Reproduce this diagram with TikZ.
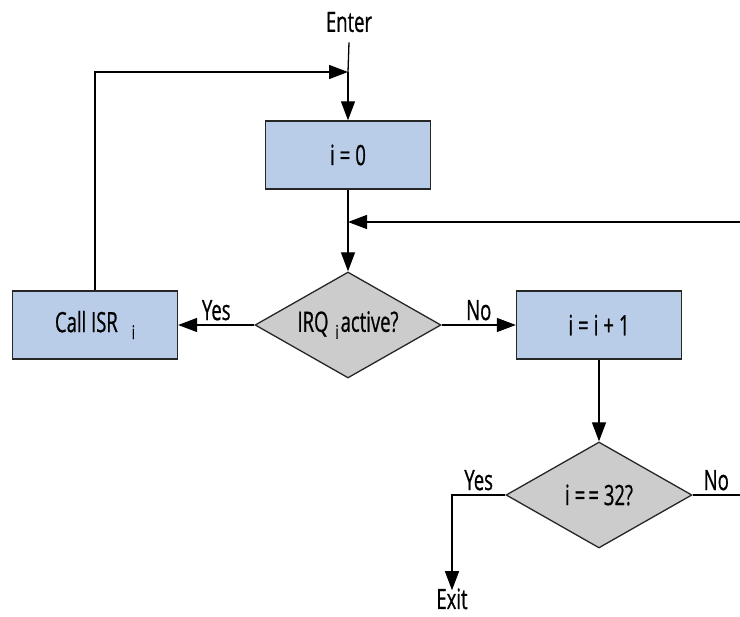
\documentclass[tikz,border=0pt]{standalone}
\usepackage{fontspec}
\setmainfont[FakeStretch=0.66,FakeBold=0.7]{Open Sans}
\usetikzlibrary{shapes.geometric,arrows.meta}
\definecolor{boxblue}{RGB}{185,205,233}
\definecolor{decgray}{RGB}{204,204,204}
\newcommand{\subi}{\raisebox{-7pt}{\fontsize{19}{19}\selectfont i}}
\begin{document}
\begin{tikzpicture}[x=1pt,y=-1pt,
  font=\fontsize{28}{32}\selectfont,
  box/.style={draw=black!85, fill=boxblue, minimum width=165pt, minimum height=68pt, inner sep=0pt, line width=1.3pt},
  dec/.style={diamond, aspect=1.75, draw=black!85, fill=decgray, minimum width=186pt, minimum height=106pt, inner sep=0pt, line width=1.3pt},
  lbl/.style={inner sep=2pt},
  arr/.style={-{Triangle[length=19pt,width=14pt]}, line width=1.3pt},
  ln/.style={line width=1.3pt}]
\useasboundingbox (0,0) rectangle (740,617);
\node[lbl] (enter) at (349,22) {Enter};
\node[box] (init) at (348,155) {i\kern5pt=\kern5pt0};
\node[dec] (irq) at (348,325) {IRQ\kern7pt\subi\kern2pt active?};
\node[box] (isr) at (95,325) {Call ISR\kern14pt\subi};
\node[box] (inc) at (599,325) {i\kern5pt=\kern5pt i\kern5pt+\kern5pt1};
\node[dec] (last) at (599,495) {i\kern5pt=\kern3pt=\kern5pt32?};
\node[lbl, anchor=base] (exit) at (452,609) {Exit};
\coordinate (j1) at (348,72);
\coordinate (j2) at (348,222);
\coordinate (loopin) at (740,222);
\coordinate (loopout) at (740,495);
\draw[ln] ([yshift=-8pt]enter.south) -- (j1);
\draw[arr] (j1) -- (init.north);
\draw[arr] (isr.north) |- (j1);
\draw[ln] (init.south) -- (j2);
\draw[arr] (j2) -- (irq.north);
\draw[arr] (loopin) -- (j2);
\draw[arr] (irq.west) -- node[above,lbl,yshift=2pt]{Yes} (isr.east);
\draw[arr] (irq.east) -- node[above,lbl,yshift=2pt]{No} (inc.west);
\draw[arr] (inc.south) -- (last.north);
\draw[arr] (last.west) -| node[pos=0.25,above,lbl,yshift=2pt]{Yes} ([yshift=-4pt]exit.north);
\draw[ln] (last.east) -- node[above,lbl,yshift=2pt]{No} (loopout);
\end{tikzpicture}
\end{document}
